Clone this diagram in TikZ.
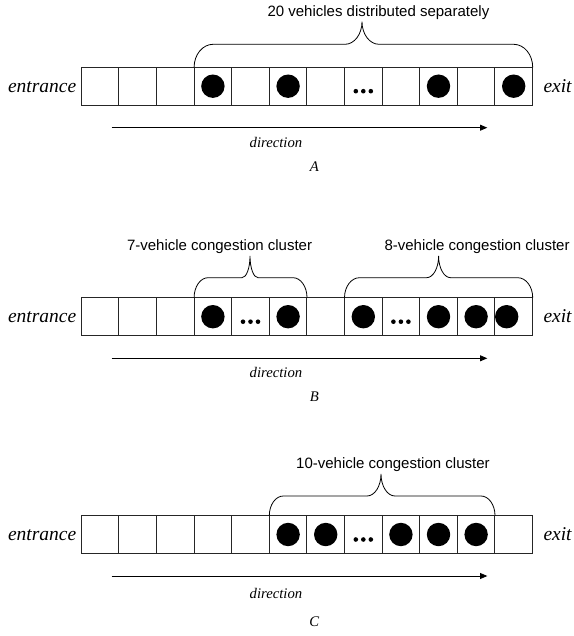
\documentclass[tikz,border=0pt]{standalone}
\usepackage{fontspec}
\setmainfont{Liberation Serif}
\newfontfamily\labelfont{Liberation Sans}
\usetikzlibrary{arrows.meta}
\newcommand\mybrace[8]{%
  \draw[bracestyle] (#1,#5) .. controls (#1,{#5-0.552*(#5-#4)}) and ({#1+0.448*#7},#4) .. ({#1+#7},#4)
   -- ({#3-#8},#4) .. controls ({#3-0.448*#8},#4) and (#3,{#6+0.552*(#4-#6)}) .. (#3,#6)
   .. controls (#3,{#6+0.552*(#4-#6)}) and ({#3+0.448*#8},#4) .. ({#3+#8},#4)
   -- ({#2-#7},#4) .. controls ({#2-0.448*#7},#4) and (#2,{#5-0.552*(#5-#4)}) .. (#2,#5);}
\tikzset{
  cellbox/.style={draw=black!85, line width=0.9pt, minimum width=37.6pt, minimum height=37.7pt, inner sep=0pt, outer sep=0pt},
  car/.style={circle, fill=black, minimum size=23.4pt, inner sep=0pt},
  smalldot/.style={circle, fill=black, minimum size=4.6pt, inner sep=0pt},
  bracestyle/.style={line width=0.8pt, black},
  dirarrow/.style={line width=0.8pt, -{Triangle[length=7.3pt,width=6pt]}},
  sidetext/.style={font=\fontsize{19.5pt}{21pt}\selectfont\itshape, inner sep=0pt},
  dirtext/.style={font=\fontsize{14.7pt}{16pt}\selectfont\itshape, inner sep=0pt},
  labeltext/.style={font=\fontsize{15pt}{17pt}\labelfont, inner sep=0pt}
}
\begin{document}
\begin{tikzpicture}[x=1pt,y=-1pt]
\useasboundingbox[fill=white] (0,0) rectangle (573,636);
% ---------- Row A ----------
\foreach \i in {0,...,11} \node[cellbox] (a\i) at ({81.3+37.6*(\i+0.5)},86.2) {};
\foreach \i in {3,5,9,11} \node[car] (ca\i) at (a\i) {};
\node[smalldot] (da1) at ([xshift=-7.5pt,yshift=-5pt]a7.center) {};
\node[smalldot] (da2) at ([yshift=-5pt]a7.center) {};
\node[smalldot] (da3) at ([xshift=7.5pt,yshift=-5pt]a7.center) {};
\node[sidetext, anchor=base east] (enA) at (76.5,92.7) {entrance};
\node[sidetext, anchor=base west] (exA) at (543.3,92.7) {exit};
\mybrace{194.1}{532.7}{362}{44.3}{67.3}{21.7}{19}{17}
\node[labeltext, anchor=base west] (lA) at (267.3,16.7) {20 vehicles distributed separately};
\coordinate (sA) at (111.7,127.7);
\coordinate (eA) at (487.3,127.7);
\draw[dirarrow] (sA) -- (eA);
\node[dirtext, anchor=base] (dA) at (276,147.7) {direction};
\node[dirtext, anchor=base] (tA) at (314.3,171.7) {A};
% ---------- Row B ----------
\foreach \i in {0,...,11} \node[cellbox] (b\i) at ({81.3+37.6*(\i+0.5)},316.7) {};
\foreach \i in {3,5,7,9,10} \node[car] (cb\i) at (b\i) {};
\node[car] (cb11) at ([xshift=-7pt]b11.center) {};
\foreach \c in {4,8} {
  \node[smalldot] (db\c a) at ([xshift=-7.5pt,yshift=-5pt]b\c.center) {};
  \node[smalldot] (db\c b) at ([yshift=-5pt]b\c.center) {};
  \node[smalldot] (db\c c) at ([xshift=7.5pt,yshift=-5pt]b\c.center) {};
}
\node[sidetext, anchor=base east] (enB) at (76.5,322.7) {entrance};
\node[sidetext, anchor=base west] (exB) at (543.3,322.7) {exit};
\mybrace{194.1}{307}{250}{277.7}{297.7}{256}{14}{8}
\mybrace{344.5}{532.7}{438.6}{277.7}{297.7}{256}{15}{12}
\node[labeltext, anchor=base east] (lB1) at (312.3,250) {7-vehicle congestion cluster};
\node[labeltext, anchor=base west] (lB2) at (384.3,250) {8-vehicle congestion cluster};
\coordinate (sB) at (111.7,358.3);
\coordinate (eB) at (487.3,358.3);
\draw[dirarrow] (sB) -- (eB);
\node[dirtext, anchor=base] (dB) at (276,377.7) {direction};
\node[dirtext, anchor=base] (tB) at (314.3,401.7) {B};
% ---------- Row C ----------
\foreach \i in {0,...,11} \node[cellbox] (c\i) at ({81.3+37.6*(\i+0.5)},534.5) {};
\foreach \i in {5,6,8,9,10} \node[car] (cc\i) at (c\i) {};
\node[smalldot] (dc1) at ([xshift=-7.5pt,yshift=-5pt]c7.center) {};
\node[smalldot] (dc2) at ([yshift=-5pt]c7.center) {};
\node[smalldot] (dc3) at ([xshift=7.5pt,yshift=-5pt]c7.center) {};
\node[sidetext, anchor=base east] (enC) at (76.5,540.7) {entrance};
\node[sidetext, anchor=base west] (exC) at (543.3,540.7) {exit};
\mybrace{269.3}{495}{381}{496}{515.7}{474}{14}{14}
\node[labeltext, anchor=base west] (lC) at (296,468.3) {10-vehicle congestion cluster};
\coordinate (sC) at (111.7,576);
\coordinate (eC) at (487.3,576);
\draw[dirarrow] (sC) -- (eC);
\node[dirtext, anchor=base] (dC) at (276,598.5) {direction};
\node[dirtext, anchor=base] (tC) at (314.3,626) {C};
\end{tikzpicture}
\end{document}
